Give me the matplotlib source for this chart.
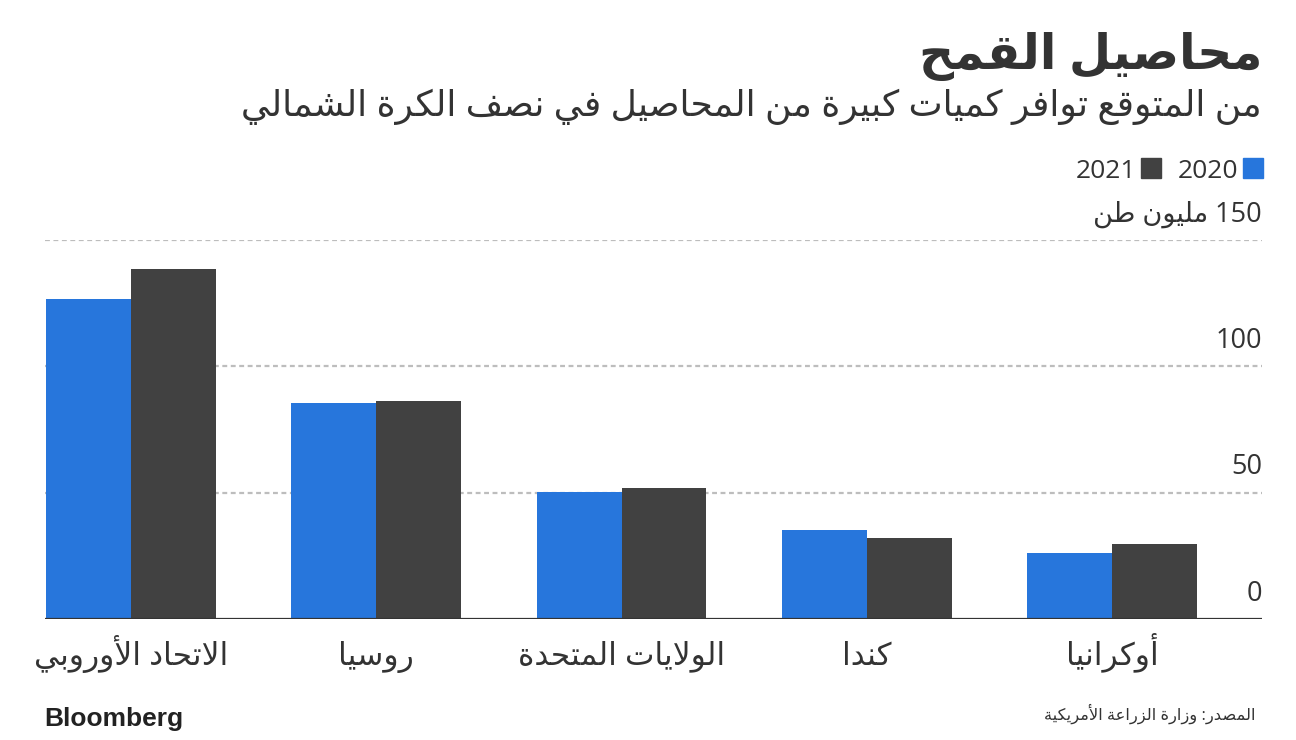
import re
import unicodedata
import numpy as np
import matplotlib
matplotlib.use('Agg')
import matplotlib.pyplot as plt
from matplotlib.patches import Rectangle
import matplotlib.transforms as mtransforms

# data
categories = ['الاتحاد الأوروبي', 'روسيا', 'الولايات المتحدة', 'كندا', 'أوكرانيا']
wheat_2020 = [126.4, 85.4, 50.2, 35.2, 26.0]
wheat_2021 = [138.2, 86.2, 51.7, 32.0, 29.6]
yticks = [0, 50, 100, 150]
ytick_labels = ['0', '50', '100', '150 مليون طن']
series_labels = ['2020', '2021']

title = 'محاصيل القمح'
subtitle = 'من المتوقع توافر كميات كبيرة من المحاصيل في نصف الكرة الشمالي'
source = 'المصدر: وزارة الزراعة الأمريكية'

# minimal arabic shaping (presentation forms) + visual reordering
FORMS = {
    'ا': (0xFE8D, 2), 'أ': (0xFE83, 2), 'ب': (0xFE8F, 4), 'ة': (0xFE93, 2),
    'ت': (0xFE95, 4), 'ح': (0xFEA1, 4), 'د': (0xFEA9, 2), 'ر': (0xFEAD, 2),
    'ز': (0xFEAF, 2), 'س': (0xFEB1, 4), 'ش': (0xFEB5, 4), 'ص': (0xFEB9, 4),
    'ط': (0xFEC1, 4), 'ع': (0xFEC9, 4), 'ف': (0xFED1, 4), 'ق': (0xFED5, 4),
    'ك': (0xFED9, 4), 'ل': (0xFEDD, 4), 'م': (0xFEE1, 4), 'ن': (0xFEE5, 4),
    'ه': (0xFEE9, 4), 'و': (0xFEED, 2), 'ي': (0xFEF1, 4),
}
LAM_ALEF = {'ا': 0xFEFB, 'أ': 0xFEF7}


def ar(text):
    text = unicodedata.normalize('NFC', text)
    items = []
    i = 0
    while i < len(text):
        if text[i] == 'ل' and i + 1 < len(text) and text[i + 1] in LAM_ALEF:
            items.append(('LA', text[i + 1]))
            i += 2
        else:
            items.append((text[i], None))
            i += 1

    def joins_next(it):
        return it[0] in FORMS and FORMS[it[0]][1] == 4

    def is_ar(it):
        return it[0] == 'LA' or it[0] in FORMS

    out = []
    for k, it in enumerate(items):
        c = it[0]
        prev_j = k > 0 and joins_next(items[k - 1])
        next_j = k + 1 < len(items) and is_ar(items[k + 1]) and joins_next(it)
        if c == 'LA':
            out.append(chr(LAM_ALEF[it[1]] + (1 if prev_j else 0)))
        elif c in FORMS:
            base, n = FORMS[c]
            if n == 2:
                off = 1 if prev_j else 0
            else:
                off = {(False, False): 0, (True, False): 1,
                       (False, True): 2, (True, True): 3}[(prev_j, next_j)]
            out.append(chr(base + off))
        else:
            out.append(c)
    s = ''.join(out)[::-1]
    return re.sub(r'[0-9]+', lambda m: m.group(0)[::-1], s)


FAM = ['Open Sans', 'DejaVu Sans']
TXT = '#333333'
BLUE = '#2776dc'
DARK = '#414141'

W, H = 1296, 740
fig = plt.figure(figsize=(W / 100, H / 100), dpi=100)


def fx(px):
    return px / W


def fy(py):
    return 1 - py / H


ax = fig.add_axes([fx(45), fy(619), fx(1262) - fx(45), fy(239.5) - fy(619)])

x = np.arange(len(categories))
bw = 0.346
ax.bar(x - bw / 2, wheat_2020, bw, color=BLUE, zorder=3)
ax.bar(x + bw / 2, wheat_2021, bw, color=DARK, zorder=3)
ax.set_xlim(-0.3506, 4.611)
ax.set_ylim(0, 150)
ax.axis('off')

for v in yticks[1:]:
    ax.axhline(v, color='#bdbdbd', lw=1.6, ls=(0, (2.2, 1.6)), zorder=1)
ax.axhline(0, color='#333333', lw=1.6, zorder=4)

tr = mtransforms.blended_transform_factory(ax.transAxes, ax.transData)
for v, lab in zip(yticks, ytick_labels):
    ax.text(1.0, v + 7.2, ar(lab), transform=tr, ha='right', va='baseline',
            fontsize=19.5, color=TXT, family=FAM)

for xi, c in zip(x, categories):
    ax.text(xi, -18.0, ar(c), ha='center', va='baseline', fontsize=22.5,
            color=TXT, family=FAM)

# legend
for (x0, col, lab) in [(1243, BLUE, series_labels[0]), (1141, DARK, series_labels[1])]:
    fig.patches.append(Rectangle((fx(x0), fy(177.5)), fx(19.5), fy(158) - fy(177.5),
                                 transform=fig.transFigure, color=col))
    fig.text(fx(x0 - 5), fy(177.5), lab, ha='right', va='baseline',
             fontsize=19, color=TXT, family=FAM)

fig.text(fx(1262), fy(69), ar(title), ha='right', va='baseline', fontsize=35,
         fontweight='bold', color=TXT, family=FAM)
fig.text(fx(1262), fy(116), ar(subtitle), ha='right', va='baseline', fontsize=26,
         color=TXT, family=FAM)
fig.text(fx(1255), fy(720), ar(source), ha='right', va='baseline', fontsize=11.7,
         color=TXT, family=FAM)
fig.text(fx(44), fy(726), 'Bloomberg', ha='left', va='baseline', fontsize=19,
         fontweight='bold', color='#222222', family=['Liberation Sans', 'DejaVu Sans'])

fig.savefig('out.png', dpi=100, facecolor='white')
